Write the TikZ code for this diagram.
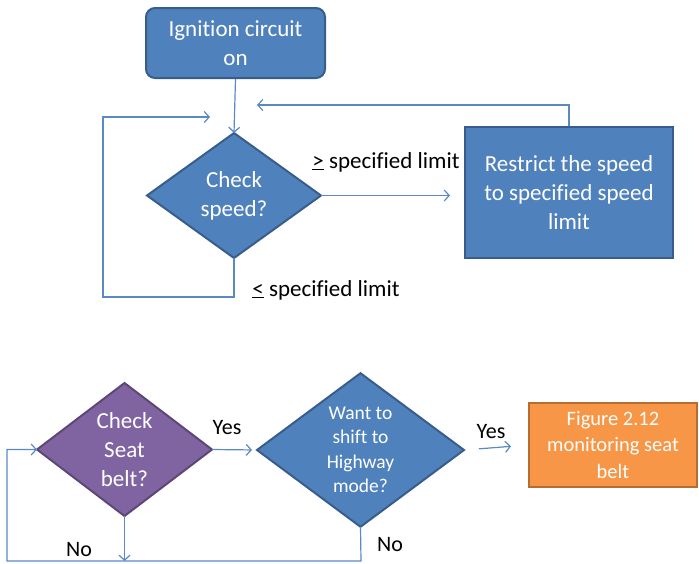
\documentclass[tikz,border=0pt]{standalone}
\usepackage{fontspec}
\setmainfont{Carlito}[Ligatures=CommonOff]
\usetikzlibrary{shapes.geometric,arrows.meta}
\definecolor{officeblue}{HTML}{4F81BD}
\definecolor{blueedge}{HTML}{385D8A}
\definecolor{officepurple}{HTML}{8064A2}
\definecolor{purpleedge}{HTML}{5C4776}
\definecolor{officeorange}{HTML}{F79646}
\definecolor{orangeedge}{HTML}{B66D31}
\definecolor{linkblue}{HTML}{5A89C4}
\tikzset{
  shapetext/.style={text=white, align=center, font=\fontsize{23}{29}\selectfont},
  bluebox/.style={shapetext, fill=officeblue, draw=blueedge, line width=2pt},
  decision/.style={diamond, inner sep=0pt, outer sep=0pt, line width=2pt},
  link/.style={draw=linkblue, line width=1.2pt, -{Straight Barb[length=5pt,width=11pt]}},
  lbl/.style={text=black, font=\fontsize{23}{29}\selectfont, inner sep=0pt},
  smalllbl/.style={text=black, font=\fontsize{22}{27}\selectfont, inner sep=0pt}
}
\begin{document}
\begin{tikzpicture}[x=1pt,y=-1pt]
\useasboundingbox (0,0) rectangle (699,563);

% upper flow: speed check
\node[bluebox, rounded corners=9pt, minimum width=179pt, minimum height=70pt] (ign) at (235.5,43) {Ignition circuit\\on};
\node[bluebox, decision, minimum width=174pt, minimum height=125pt] (spd) at (234,195.5) {Check\\speed?};
\node[bluebox, line width=2.5pt, minimum width=208pt, minimum height=131pt] (rst) at (569,192.5) {Restrict the speed\\to specified speed\\limit};

\coordinate (spdend) at (450,195.5);
\coordinate (loopend) at (210,117);
\coordinate (backend) at (257,105);

\draw[link] (ign.south) -- (spd.north);
\draw[link] (spd.east) -- (spdend);
\draw[link] (spd.south) -- (234,297) -- (103,297) -- (103,117) -- (loopend);
\draw[link] (rst.north) -- (569,105) -- (backend);

\node[lbl] (gelbl) at (386,162) {\underline{>} specified limit};
\node[lbl] (lelbl) at (326,290) {\underline{<} specified limit};

% lower flow: seat belt check
\node[shapetext, decision, fill=officepurple, draw=purpleedge, minimum width=175pt, minimum height=133pt] (seat) at (124.5,449.5) {Check\\Seat\\belt?};
\node[shapetext, decision, fill=officeblue, draw=blueedge, minimum width=207pt, minimum height=136pt, font=\fontsize{19.5}{24.5}\selectfont] (hwy) at (360.5,450) {Want to\\shift to\\Highway\\mode?};
\node[shapetext, fill=officeorange, draw=orangeedge, line width=2pt, minimum width=168pt, minimum height=84pt, font=\fontsize{20.5}{26.5}\selectfont] (fig) at (613,445) {Figure 2.12\\monitoring seat\\belt};

\coordinate (seatdrop) at (124.5,561);
\draw[link, shorten >=5pt] (seat.east) -- (hwy.west);
\draw[link, shorten <=15pt, shorten >=17pt] (hwy.east) -- (fig.west);
\draw[link] (hwy.south) -- (361,561) -- (7,561) -- (7,449.5) -- (seat.west);
\draw[link] (seat.south) -- (seatdrop);

\node[smalllbl] (yes1) at (227,428) {Yes};
\node[smalllbl] (yes2) at (491,432) {Yes};
\node[smalllbl] (no1) at (79,550) {No};
\node[smalllbl] (no2) at (390,545) {No};
\end{tikzpicture}
\end{document}
